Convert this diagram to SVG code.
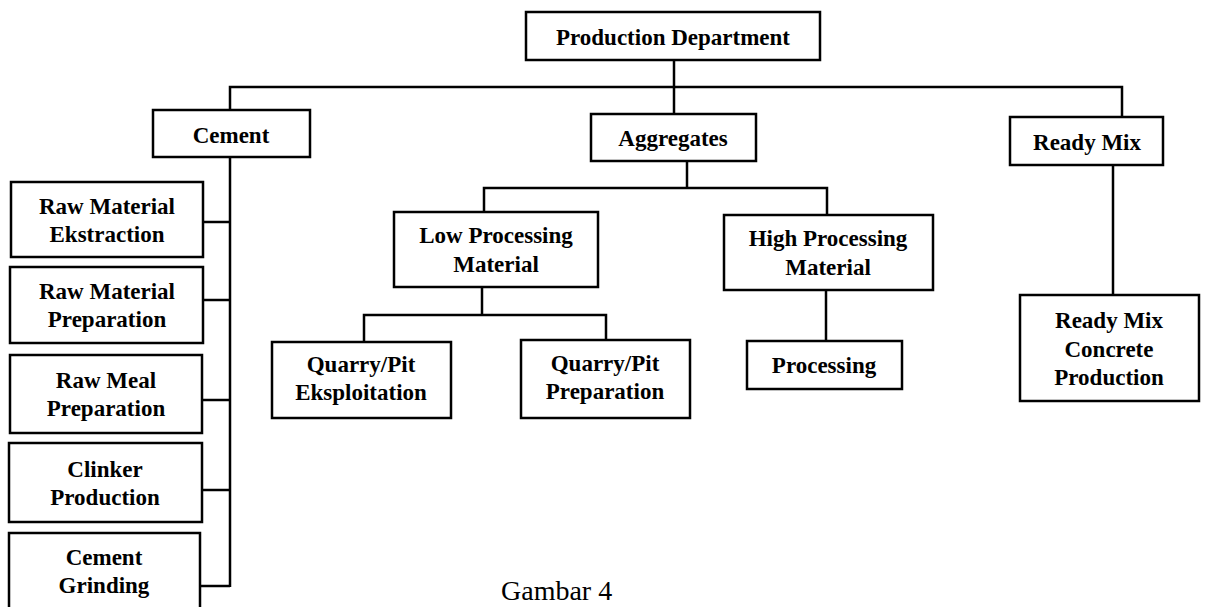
<svg xmlns="http://www.w3.org/2000/svg" width="1206" height="607" viewBox="0 0 1206 607">
<style>
.box{fill:#fff;stroke:#000;stroke-width:2.5}
.lbl{font-family:"Liberation Serif","Times New Roman",serif;font-weight:bold;font-size:23px;text-anchor:middle;fill:#000}
.conn{fill:none;stroke:#000;stroke-width:2.5}
.cap{font-family:"Liberation Serif","Times New Roman",serif;font-size:28px;fill:#000}
</style>
<rect width="1206" height="607" fill="#fff"/>
<g id="connectors" class="conn">
<polyline points="230,110 230,87 1122,87 1122,117"/>
<line x1="674" y1="60" x2="674" y2="114"/>
<line x1="230" y1="157" x2="230" y2="587"/>
<line x1="203" y1="222" x2="230" y2="222"/>
<line x1="203" y1="300" x2="230" y2="300"/>
<line x1="202" y1="400" x2="230" y2="400"/>
<line x1="202" y1="490" x2="230" y2="490"/>
<line x1="200" y1="586" x2="230" y2="586"/>
<line x1="687" y1="161" x2="687" y2="188"/>
<polyline points="484,212 484,188 827,188 827,215"/>
<line x1="482" y1="287" x2="482" y2="315"/>
<polyline points="364,342 364,315 606,315 606,340"/>
<line x1="826" y1="290" x2="826" y2="341"/>
<line x1="1113" y1="165" x2="1113" y2="295"/>
</g>
<g id="production-department"><rect class="box" x="526" y="12" width="294" height="48"/><text class="lbl" x="673" y="45">Production Department</text></g>
<g id="cement"><rect class="box" x="153" y="110" width="157" height="47"/><text class="lbl" x="231" y="143">Cement</text></g>
<g id="aggregates"><rect class="box" x="591" y="114" width="165" height="47"/><text class="lbl" x="673" y="146">Aggregates</text></g>
<g id="ready-mix"><rect class="box" x="1010" y="117" width="153" height="48"/><text class="lbl" x="1087" y="150">Ready Mix</text></g>
<g id="raw-material-ekstraction"><rect class="box" x="11" y="182" width="192" height="75"/><text class="lbl" x="107" y="214">Raw Material</text><text class="lbl" x="107" y="242">Ekstraction</text></g>
<g id="raw-material-preparation"><rect class="box" x="10" y="267" width="193" height="76"/><text class="lbl" x="107" y="299">Raw Material</text><text class="lbl" x="107" y="327">Preparation</text></g>
<g id="raw-meal-preparation"><rect class="box" x="10" y="355" width="192" height="78"/><text class="lbl" x="106" y="388">Raw Meal</text><text class="lbl" x="106" y="416">Preparation</text></g>
<g id="clinker-production"><rect class="box" x="9" y="443" width="193" height="79"/><text class="lbl" x="105" y="477">Clinker</text><text class="lbl" x="105" y="505">Production</text></g>
<g id="cement-grinding"><rect class="box" x="9" y="533" width="191" height="85"/><text class="lbl" x="104" y="565">Cement</text><text class="lbl" x="104" y="593">Grinding</text></g>
<g id="low-processing-material"><rect class="box" x="394" y="212" width="204" height="75"/><text class="lbl" x="496" y="243">Low Processing</text><text class="lbl" x="496" y="272">Material</text></g>
<g id="high-processing-material"><rect class="box" x="724" y="215" width="209" height="75"/><text class="lbl" x="828" y="246">High Processing</text><text class="lbl" x="828" y="275">Material</text></g>
<g id="quarry-pit-eksploitation"><rect class="box" x="272" y="342" width="179" height="76"/><text class="lbl" x="361" y="372">Quarry/Pit</text><text class="lbl" x="361" y="400">Eksploitation</text></g>
<g id="quarry-pit-preparation"><rect class="box" x="521" y="340" width="169" height="78"/><text class="lbl" x="605" y="371">Quarry/Pit</text><text class="lbl" x="605" y="399">Preparation</text></g>
<g id="processing"><rect class="box" x="747" y="341" width="155" height="48"/><text class="lbl" x="824" y="373">Processing</text></g>
<g id="ready-mix-concrete-production"><rect class="box" x="1020" y="295" width="179" height="106"/><text class="lbl" x="1109" y="328">Ready Mix</text><text class="lbl" x="1109" y="357">Concrete</text><text class="lbl" x="1109" y="385">Production</text></g>
<text class="cap" x="501" y="600">Gambar 4</text>
</svg>
